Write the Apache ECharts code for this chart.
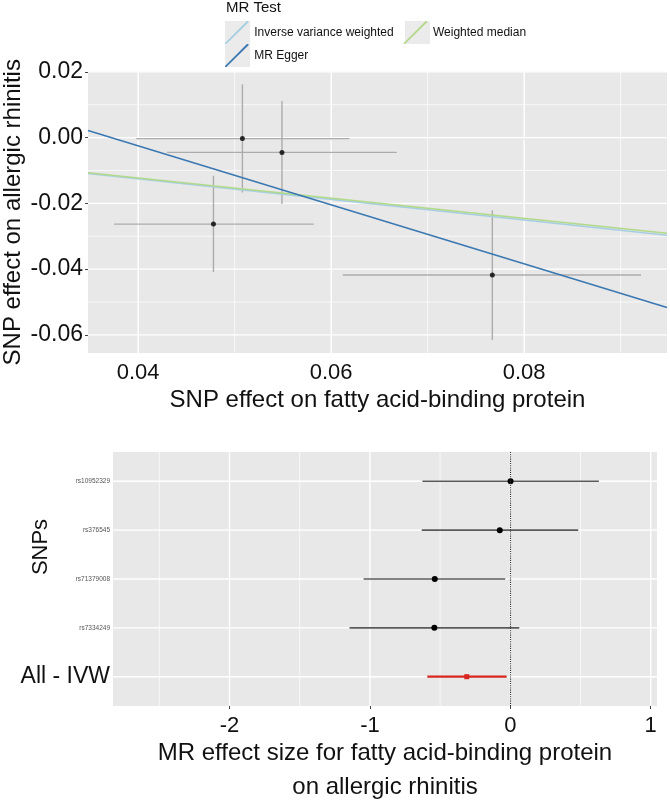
<!DOCTYPE html>
<html><head><meta charset="utf-8">
<script src="https://cdn.jsdelivr.net/npm/echarts@6/dist/echarts.min.js"></script>
<style>html,body{margin:0;padding:0;background:#fff}#c{width:670px;height:803px}</style>
</head><body><div id="c"></div>
<script>
const FONT = "'Liberation Sans', Arial, Helvetica, sans-serif";

// ---- Scatter plot data (SNP effects) ----
const snpExposure   = [0.0508, 0.0549, 0.0478, 0.0767];
const snpOutcome    = [-0.0003, -0.0045, -0.0263, -0.0418];
const exposureLo    = [0.0398, 0.0430, 0.0375, 0.0612];
const exposureHi    = [0.0619, 0.0668, 0.0582, 0.0921];
const outcomeLo     = [-0.0167, -0.0202, -0.0409, -0.0616];
const outcomeHi     = [0.0162, 0.0111, -0.0116, -0.0221];

// ---- MR methods (regression lines) ----
const methods    = ['Inverse variance weighted', 'MR Egger', 'Weighted median'];
const slopes     = [-0.313, -0.897, -0.307];
const intercepts = [0, 0.0334, 0];
const methodColors = ['#a6cee3', '#3a78b2', '#b2d98a'];

// ---- Scatter axes ----
const scatterXRange = [0.0348, 0.0948];
const scatterYRange = [-0.0655, 0.0201];
const scatterXTicks = [0.04, 0.06, 0.08];
const scatterXMinor = [0.05, 0.07, 0.09];
const scatterYTicks = [-0.06, -0.04, -0.02, 0, 0.02];
const scatterYMinor = [-0.05, -0.03, -0.01, 0.01];

// ---- Forest plot data ----
const forestLabels = ['rs10952329', 'rs376545', 'rs71379008', 'rs7334249', 'All - IVW'];
const forestB  = [0.002, -0.075, -0.538, -0.541, -0.310];
const forestLo = [-0.626, -0.631, -1.045, -1.145, -0.591];
const forestHi = [0.631, 0.484, -0.036, 0.064, -0.026];
const forestXRange = [-2.83, 1.045];
const forestXTicks = [-2, -1, 0, 1];
const forestXMinor = [-2.5, -1.5, -0.5, 0.5];

const chart = echarts.init(document.getElementById('c'), null, {renderer: 'canvas'});

function gridLines(gi, dim, values, width, name) {
  return {
    type: 'custom', name: name, xAxisIndex: gi, yAxisIndex: gi, z: 1, silent: true,
    data: values.map(v => dim === 'x' ? [v, 0] : [0, v]),
    encode: dim === 'x' ? {x: 0} : {y: 1},
    renderItem: function (params, api) {
      const cs = params.coordSys;
      const p = api.coord([api.value(0), api.value(1)]);
      const shape = dim === 'x'
        ? {x1: p[0], y1: cs.y, x2: p[0], y2: cs.y + cs.height}
        : {x1: cs.x, y1: p[1], x2: cs.x + cs.width, y2: p[1]};
      return {type: 'line', shape: shape, style: {stroke: '#ffffff', lineWidth: width}};
    }
  };
}

const scatterErrData = snpExposure.map((x, i) => [x, snpOutcome[i], exposureLo[i], exposureHi[i], outcomeLo[i], outcomeHi[i]]);
const scatterPoints = snpExposure.map((x, i) => [x, snpOutcome[i]]);

const methodSeries = methods.map((m, i) => ({
  type: 'line', name: m, xAxisIndex: 0, yAxisIndex: 0, z: 5,
  symbol: 'none', silent: true,
  data: scatterXRange.map(x => [x, intercepts[i] + slopes[i] * x]),
  lineStyle: {color: methodColors[i], width: 1.6},
  itemStyle: {color: methodColors[i]}
}));

const forestData = forestB.map((b, i) => [b, i + 1, forestLo[i], forestHi[i]]);

const legendIcon = 'path://M1,22 L22,1 L23.5,1 L23.5,2.3 L2.3,23 L1,23 Z';

const option = {
  animation: false,
  backgroundColor: '#ffffff',
  textStyle: {fontFamily: FONT},
  title: {
    text: 'MR Test', left: 226, top: 0, padding: 0,
    textStyle: {fontSize: 15, fontWeight: 'normal', color: '#111', fontFamily: FONT}
  },
  legend: [
    {
      data: ['Inverse variance weighted', 'Weighted median'],
      left: 225, top: 21, padding: 0, itemGap: 10, itemWidth: 25, itemHeight: 23,
      icon: legendIcon,
      textStyle: {fontSize: 12, color: '#111', fontFamily: FONT},
      itemStyle: {borderWidth: 0}, selectedMode: false, z: 6
    },
    {
      data: ['MR Egger'],
      left: 225, top: 44, padding: 0, itemGap: 10, itemWidth: 25, itemHeight: 23,
      icon: legendIcon,
      textStyle: {fontSize: 12, color: '#111', fontFamily: FONT},
      itemStyle: {borderWidth: 0}, selectedMode: false, z: 6
    }
  ],
  graphic: [
    {type: 'rect', left: 225, top: 21, shape: {width: 25, height: 23}, style: {fill: '#ebebeb'}, z: 0, silent: true},
    {type: 'rect', left: 225, top: 44, shape: {width: 25, height: 23}, style: {fill: '#ebebeb'}, z: 0, silent: true},
    {type: 'rect', left: 405, top: 21, shape: {width: 25, height: 23}, style: {fill: '#ebebeb'}, z: 0, silent: true}
  ],
  grid: [
    {left: 88, top: 71.5, width: 579, height: 281.5, show: true, backgroundColor: '#e8e8e8', borderWidth: 0,
      containLabel: false, outerBoundsMode: 'none'},
    {left: 113, top: 452, width: 544, height: 254, show: true, backgroundColor: '#e8e8e8', borderWidth: 0,
      containLabel: false, outerBoundsMode: 'none'}
  ],
  xAxis: [
    {
      type: 'value', gridIndex: 0, min: scatterXRange[0], max: scatterXRange[1],
      name: 'SNP effect on fatty acid-binding protein', nameLocation: 'middle', nameGap: 35, nameMoveOverlap: false,
      nameTextStyle: {fontSize: 24, color: '#111', fontFamily: FONT},
      axisLine: {show: false},
      axisTick: {show: true, length: 3, lineStyle: {color: '#444'}, customValues: scatterXTicks},
      axisLabel: {fontSize: 22, color: '#111', margin: 9, fontFamily: FONT, customValues: scatterXTicks,
        formatter: v => v.toFixed(2)},
      splitLine: {show: false}
    },
    {
      type: 'value', gridIndex: 1, min: forestXRange[0], max: forestXRange[1],
      name: 'MR effect size for fatty acid-binding protein\non allergic rhinitis', nameLocation: 'middle', nameGap: 30,
      nameMoveOverlap: false,
      nameTextStyle: {fontSize: 24, color: '#111', lineHeight: 34, fontFamily: FONT},
      axisLine: {show: false},
      axisTick: {show: true, length: 3, lineStyle: {color: '#444'}, customValues: forestXTicks},
      axisLabel: {fontSize: 22, color: '#111', margin: 9, fontFamily: FONT, customValues: forestXTicks,
        formatter: v => String(v)},
      splitLine: {show: false}
    }
  ],
  yAxis: [
    {
      type: 'value', gridIndex: 0, min: scatterYRange[0], max: scatterYRange[1],
      name: 'SNP effect on allergic rhinitis', nameLocation: 'middle', nameGap: 63, nameMoveOverlap: false,
      nameTextStyle: {fontSize: 24, color: '#111', fontFamily: FONT},
      axisLine: {show: false},
      axisTick: {show: true, length: 3, lineStyle: {color: '#444'}, customValues: scatterYTicks},
      axisLabel: {fontSize: 23, color: '#111', margin: 5, fontFamily: FONT, customValues: scatterYTicks,
        formatter: v => v.toFixed(2)},
      splitLine: {show: false}
    },
    {
      type: 'value', gridIndex: 1, min: 0.4, max: 5.6, inverse: true,
      name: 'SNPs', nameLocation: 'middle', nameGap: 61, nameMoveOverlap: false,
      nameTextStyle: {fontSize: 22, color: '#111', fontFamily: FONT, padding: [0, 0, 0, 64]},
      axisLine: {show: false},
      axisTick: {show: true, length: 2, lineStyle: {color: '#666'}, customValues: [1, 2, 3, 4, 5]},
      axisLabel: {margin: 3, customValues: [1, 2, 3, 4, 5],
        formatter: v => {
          const lab = forestLabels[Math.round(v) - 1];
          return lab === 'All - IVW' ? '{big|' + lab + '}' : '{small|' + lab + '}';
        },
        rich: {
          small: {fontSize: 6.5, color: '#555', fontFamily: FONT},
          big: {fontSize: 23, color: '#111', fontFamily: FONT}
        }
      },
      splitLine: {show: false}
    }
  ],
  series: [
    gridLines(0, 'x', scatterXMinor, 0.7, 'gx0m'),
    gridLines(0, 'y', scatterYMinor, 0.7, 'gy0m'),
    gridLines(0, 'x', scatterXTicks, 1.4, 'gx0M'),
    gridLines(0, 'y', scatterYTicks, 1.4, 'gy0M'),
    gridLines(1, 'x', forestXMinor, 0.7, 'gx1m'),
    gridLines(1, 'x', forestXTicks, 1.4, 'gx1M'),
    gridLines(1, 'y', [1, 2, 3, 4, 5], 1.4, 'gy1M'),
    {
      type: 'custom', name: 'errorbars', xAxisIndex: 0, yAxisIndex: 0, z: 2, silent: true,
      data: scatterErrData,
      encode: {x: [0, 2, 3], y: [1, 4, 5]},
      renderItem: function (params, api) {
        const x = api.value(0), y = api.value(1);
        const a = api.coord([api.value(2), y]), b = api.coord([api.value(3), y]);
        const c = api.coord([x, api.value(4)]), d = api.coord([x, api.value(5)]);
        const st = {stroke: '#acacac', lineWidth: 1.4};
        return {type: 'group', children: [
          {type: 'line', shape: {x1: a[0], y1: a[1], x2: b[0], y2: b[1]}, style: st},
          {type: 'line', shape: {x1: c[0], y1: c[1], x2: d[0], y2: d[1]}, style: st}
        ]};
      }
    },
    {
      type: 'scatter', name: 'SNPs', xAxisIndex: 0, yAxisIndex: 0, z: 3, silent: true,
      data: scatterPoints, symbolSize: 5, itemStyle: {color: '#000'}
    },
    methodSeries[0], methodSeries[2], methodSeries[1],
    {
      type: 'custom', name: 'forest', xAxisIndex: 1, yAxisIndex: 1, z: 3, silent: true,
      data: forestData,
      encode: {x: [0, 2, 3], y: 1},
      renderItem: function (params, api) {
        const y = api.value(1);
        const isIVW = forestLabels[params.dataIndex] === 'All - IVW';
        const col = isIVW ? '#d7261e' : '#5a5a5a';
        const a = api.coord([api.value(2), y]), b = api.coord([api.value(3), y]);
        const p = api.coord([api.value(0), y]);
        const pt = isIVW
          ? {type: 'rect', shape: {x: p[0] - 2.5, y: p[1] - 2.5, width: 5, height: 5}, style: {fill: '#d7261e'}}
          : {type: 'circle', shape: {cx: p[0], cy: p[1], r: 3}, style: {fill: '#000'}};
        return {type: 'group', children: [
          {type: 'line', shape: {x1: a[0], y1: a[1], x2: b[0], y2: b[1]}, style: {stroke: col, lineWidth: isIVW ? 2.2 : 1.6}},
          pt
        ]};
      },
      markLine: {
        silent: true, symbol: 'none', label: {show: false},
        lineStyle: {type: 'dotted', color: '#333', width: 1.1},
        data: [{xAxis: 0}]
      }
    }
  ]
};
chart.setOption(option);
</script>
</body></html>
